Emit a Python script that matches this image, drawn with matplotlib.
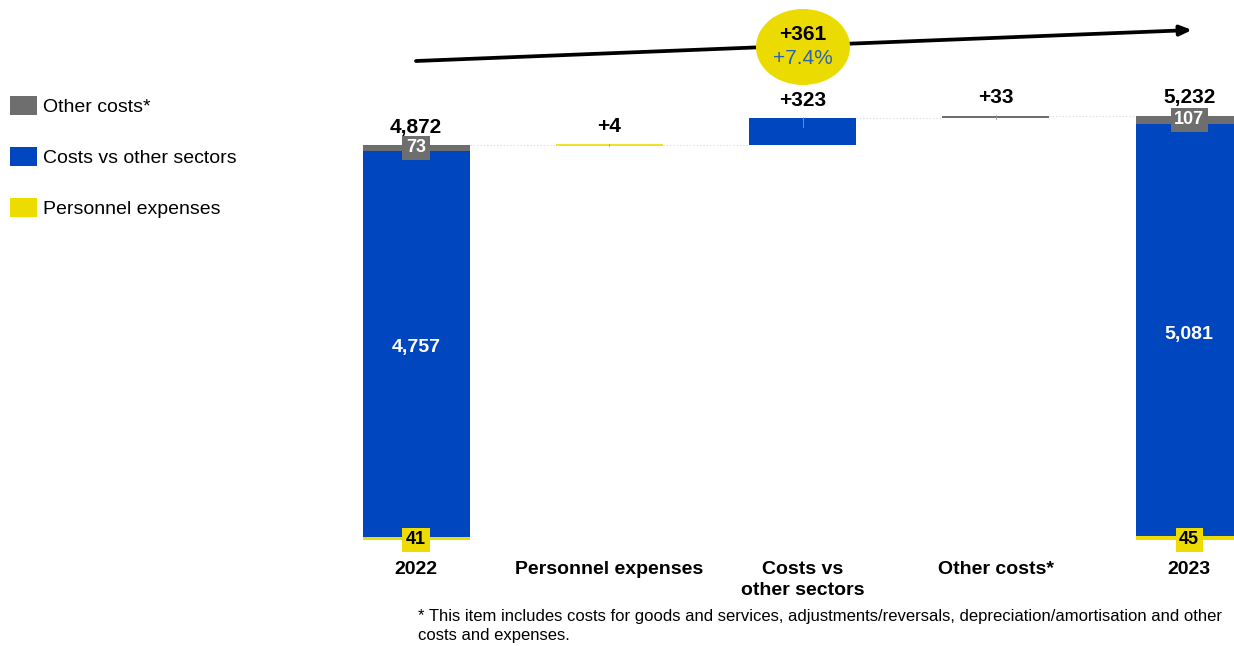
import matplotlib
matplotlib.use("Agg")
import matplotlib.pyplot as plt
from matplotlib.patches import Ellipse
import numpy as np

plt.rcParams['font.family'] = ['Liberation Sans', 'DejaVu Sans']

# data
categories = ["2022", "Personnel expenses", "Costs vs\nother sectors", "Other costs*", "2023"]
series_names = ["Personnel expenses", "Costs vs other sectors", "Other costs*"]
start_parts = [41, 4757, 73]      # 2022 stack
end_parts = [45, 5081, 107]       # 2023 stack
start_total = 4872
end_total = 5232
deltas = [4, 323, 33]             # personnel, costs vs sectors, other
delta_labels = ["+4", "+323", "+33"]
total_change = "+361"
total_change_pct = "+7.4%"
footnote = ("* This item includes costs for goods and services, adjustments/reversals, "
            "depreciation/amortisation and other\ncosts and expenses.")

colors = ["#EEDC00", "#0046BE", "#6E6E6E"]
W, H = 1234, 646

fig = plt.figure(figsize=(W / 100, H / 100), dpi=100)

# main axes: value 0 sits at pixel row 540, 0.0811 px per unit
px_per_unit = 0.0811
ax_left, ax_right = 320, 1234
x0_px, step_px = 416, 193.3
ax = fig.add_axes([ax_left / W, (H - 540) / H, (ax_right - ax_left) / W, 540 / H])
ax.set_xlim((ax_left - x0_px) / step_px, (ax_right - x0_px) / step_px)
ax.set_ylim(0, 540 / px_per_unit)
ax.axis("off")
ax.patch.set_alpha(0)

bw = 107 / step_px
x = np.arange(len(categories))

# start and end stacks
handles = []
for xi, parts in [(0, start_parts), (4, end_parts)]:
    bottom = 0
    for k, v in enumerate(parts):
        b = ax.bar(xi, v, bw, bottom=bottom, color=colors[k], linewidth=0, zorder=2)
        if xi == 0:
            handles.append(b)
        bottom += v

# waterfall steps (thin ones get an edge so they stay visible)
level = start_total
for i, d in enumerate(deltas):
    ax.bar(x[i + 1], d, bw, bottom=level, color=colors[i], ec=colors[i],
           linewidth=1.2 if d < 20 else 0, zorder=2)
    # little tick at the centre, like the original
    ax.plot([x[i + 1]] * 2, [level + d + 1 / px_per_unit, level + d - min(9, d * px_per_unit + 1) / px_per_unit],
            color="#999999", lw=0.6, zorder=3)
    level += d

# dotted connectors
levels = [start_total]
for d in deltas:
    levels.append(levels[-1] + d)
for i in range(4):
    ax.plot([x[i] + bw / 2, x[i + 1] - bw / 2], [levels[i], levels[i]],
            ls=(0, (1, 2)), color="#D8D8D8", lw=0.8, zorder=1)

# labels
ax.annotate(f"{start_total:,}", (0, start_total), xytext=(0, 6), textcoords="offset points",
            ha="center", va="bottom", fontsize=15, fontweight="bold")
ax.annotate(f"{end_total:,}", (4, end_total), xytext=(0, 6), textcoords="offset points",
            ha="center", va="bottom", fontsize=15, fontweight="bold")
for i, d in enumerate(deltas):
    ax.annotate(delta_labels[i], (x[i + 1], levels[i + 1]), xytext=(0, 6),
                textcoords="offset points", ha="center", va="bottom",
                fontsize=15, fontweight="bold")

for xi, parts in [(0, start_parts), (4, end_parts)]:
    # personnel box at the base
    ax.text(xi, 0, str(parts[0]), ha="center", va="center", fontsize=13, fontweight="bold",
            color="black", zorder=4,
            bbox=dict(boxstyle="square,pad=0.2", fc=colors[0], ec="none"))
    # blue middle
    ax.text(xi, parts[0] + parts[1] / 2 - 4 / px_per_unit, f"{parts[1]:,}", ha="center",
            va="center", fontsize=14, fontweight="bold", color="white", zorder=4)
    # other costs box
    ax.text(xi, parts[0] + parts[1] + parts[2] / 2, str(parts[2]), ha="center", va="center",
            fontsize=13, fontweight="bold", color="white", zorder=4,
            bbox=dict(boxstyle="square,pad=0.2", fc=colors[2], ec="none"))

# category labels
for xi, lab in zip(x, categories):
    ax.text(xi, -21 / px_per_unit, lab, ha="center", va="top", fontsize=14,
            fontweight="bold", linespacing=1.3, clip_on=False)

# overlay for arrow, bubble, footnote
ov = fig.add_axes([0, 0, 1, 1], zorder=5)
ov.set_xlim(0, W)
ov.set_ylim(H, 0)
ov.axis("off")
ov.patch.set_alpha(0)
ov.annotate("", xy=(1192, 30), xytext=(416, 61),
            arrowprops=dict(arrowstyle="-|>,head_length=0.7,head_width=0.3",
                            color="black", lw=2.7, shrinkA=0, shrinkB=0))
ov.add_patch(Ellipse((803, 47), 94, 76, fc="#EBDB00", ec="none", zorder=3))
ov.text(803, 34, total_change, ha="center", va="center", fontsize=15,
        fontweight="bold", zorder=4)
ov.text(803, 58, total_change_pct, ha="center", va="center", fontsize=15,
        color="#2E62B3", zorder=4)
ov.text(418, 609, footnote, ha="left", va="top", fontsize=12.0, linespacing=1.32)

# legend
fig.legend([handles[2], handles[1], handles[0]],
           [series_names[2], series_names[1], series_names[0]],
           loc="upper left", bbox_to_anchor=(10 / W, 1 - 96 / H), frameon=False,
           fontsize=14, handlelength=1.4, handleheight=1.1, handletextpad=0.3,
           labelspacing=1.6, borderpad=0, borderaxespad=0)

fig.savefig("out.png", dpi=100)
